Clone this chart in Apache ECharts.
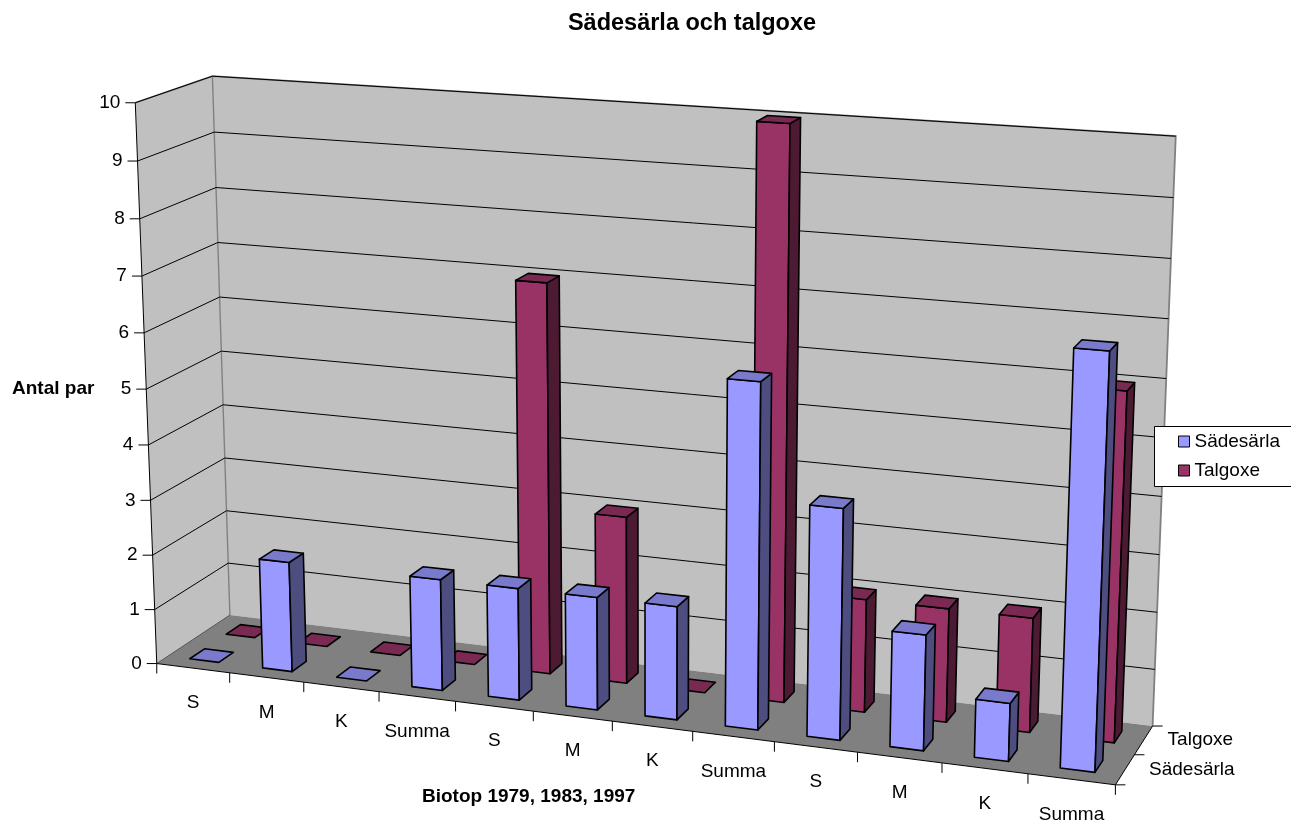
<!DOCTYPE html>
<html>
<head>
<meta charset="utf-8">
<script src="https://cdn.jsdelivr.net/npm/echarts@6/dist/echarts.min.js"></script>
<style>
  html, body { margin: 0; padding: 0; background: #ffffff; overflow: hidden; }
  #chart { width: 1291px; height: 821px; }
</style>
</head>
<body>
<div id="chart"></div>
<script>
// ---- chart data ----
const chartTitle = 'Sädesärla och talgoxe';
const categories = ['S', 'M', 'K', 'Summa', 'S', 'M', 'K', 'Summa', 'S', 'M', 'K', 'Summa'];
const seriesNames = ['Sädesärla', 'Talgoxe'];
const sadesarla = [0, 2, 0, 2, 2, 2, 2, 6, 4, 2, 1, 7];
const talgoxe = [0, 0, 0, 0, 7, 3, 0, 10, 2, 2, 2, 6];
const valueTicks = [0, 1, 2, 3, 4, 5, 6, 7, 8, 9, 10];
const valueMax = 10;
const xAxisTitle = 'Biotop 1979, 1983, 1997';
const yAxisTitle = 'Antal par';

// ---- 3-D frame: where the box corners and axis ticks sit on screen ----
// each entry: [category position, value, row position, screen x, screen y]
const frameAnchors = [
  [0, 0, 0, 157, 663], [0, 10, 0, 135, 102], [0, 1, 0, 155, 609],
  [0, 0, 2, 229, 615], [0, 10, 2, 212, 76], [0, 9, 2, 215, 133],
  [12, 0, 2, 1153, 725], [12, 10, 2, 1176, 136], [12, 9, 2, 1173, 198],
  [12, 0, 0, 1115, 784], [12, 0, 1, 1135, 755],
  [1, 0, 0, 230, 673], [2, 0, 0, 304, 682], [3, 0, 0, 379, 692], [4, 0, 0, 456, 701],
  [5, 0, 0, 533, 711], [6, 0, 0, 612, 722], [7, 0, 0, 693, 733], [8, 0, 0, 774, 742],
  [9, 0, 0, 857, 753], [10, 0, 0, 942, 763], [11, 0, 0, 1028, 773]
];

const FONT = "'Liberation Sans', Arial, Helvetica, sans-serif";
const BAR = 0.4;                 // share of a slot taken by a column (gap 150%)
const shadesBlue = { front: '#9999FF', top: '#7A7ACC', side: '#4D4D80' };
const shadesPlum = { front: '#993366', top: '#7A2952', side: '#4D1A33' };

const nCat = categories.length;
const nRow = seriesNames.length;

// Fit a perspective camera (3x4 projective matrix, DLT least squares)
function fitCamera(anchors, sx, sy, sz) {
  const rows = [], rhs = [];
  anchors.forEach(([X, Y, Z, u, v]) => {
    const x = X / sx, y = Y / sy, z = Z / sz, U = u / 1000, V = v / 1000;
    rows.push([x, y, z, 1, 0, 0, 0, 0, -U * x, -U * y, -U * z]); rhs.push(U);
    rows.push([0, 0, 0, 0, x, y, z, 1, -V * x, -V * y, -V * z]); rhs.push(V);
  });
  const n = 11;
  const N = Array.from({ length: n }, () => new Array(n + 1).fill(0));
  rows.forEach((r, k) => {
    for (let i = 0; i < n; i++) {
      for (let j = 0; j < n; j++) N[i][j] += r[i] * r[j];
      N[i][n] += r[i] * rhs[k];
    }
  });
  for (let c = 0; c < n; c++) {
    let p = c;
    for (let r = c + 1; r < n; r++) if (Math.abs(N[r][c]) > Math.abs(N[p][c])) p = r;
    [N[c], N[p]] = [N[p], N[c]];
    for (let r = 0; r < n; r++) {
      if (r === c) continue;
      const f = N[r][c] / N[c][c];
      for (let k = c; k <= n; k++) N[r][k] -= f * N[c][k];
    }
  }
  const m = N.map((row, i) => row[n] / row[i]);
  return function (X, Y, Z) {
    const x = X / sx, y = Y / sy, z = Z / sz;
    const w = m[8] * x + m[9] * y + m[10] * z + 1;
    return [
      (m[0] * x + m[1] * y + m[2] * z + m[3]) / w * 1000,
      (m[4] * x + m[5] * y + m[6] * z + m[7]) / w * 1000
    ];
  };
}
const project = fitCamera(frameAnchors, nCat, valueMax, nRow);

// grid pixel -> (category position, value) through the cartesian scales
function toWorld(pt, cs) {
  return [(pt[0] - cs.x) / cs.width * nCat, (cs.y + cs.height - pt[1]) / cs.height * valueMax];
}
function poly(points, fill, stroke, lw) {
  return { type: 'polygon', shape: { points: points },
    style: { fill: fill, stroke: stroke || null, lineWidth: lw || 0, lineJoin: 'round' } };
}
function line(points, stroke, lw) {
  return { type: 'polyline', shape: { points: points },
    style: { fill: null, stroke: stroke, lineWidth: lw } };
}
function label(text, x, y, align, size, weight) {
  return { type: 'text', x: x, y: y,
    style: { text: text, fill: '#000', align: align, verticalAlign: 'middle',
      font: (weight || 'normal') + ' ' + (size || 19) + 'px ' + FONT } };
}

// walls, floor and the axis lines
function renderFrame(params, api) {
  const cs = params.coordSys;
  const top = toWorld(api.coord([0, valueMax]), cs)[1];
  const X1 = nCat, Z1 = nRow;
  const P = project;
  return { type: 'group', children: [
    poly([P(0, 0, 0), P(0, 0, Z1), P(0, top, Z1), P(0, top, 0)], '#C0C0C0'),
    poly([P(0, 0, Z1), P(X1, 0, Z1), P(X1, top, Z1), P(0, top, Z1)], '#C0C0C0'),
    poly([P(0, 0, 0), P(X1, 0, 0), P(X1, 0, Z1), P(0, 0, Z1)], '#808080'),
    line([P(0, top, 0), P(0, top, Z1), P(X1, top, Z1), P(X1, 0, Z1)], '#808080', 1.8),
    line([P(0, 0, Z1), P(0, top, Z1)], '#808080', 1.4),
    line([P(0, 0, 0), P(0, 0, Z1)], '#555555', 1),
    line([P(0, 0, 0), P(0, top, 0)], '#000', 1),
    line([P(0, 0, 0), P(X1, 0, 0)], '#000', 1),
    line([P(X1, 0, 0), P(X1, 0, Z1)], '#000', 1)
  ] };
}

// value gridlines on side and back walls, ticks and labels of the value axis
function renderValueTick(params, api) {
  const cs = params.coordSys;
  const y = toWorld(api.coord([0, api.value(1)]), cs)[1];
  const P = project;
  const a = P(0, y, 0);
  const kids = [line([[a[0] - 10, a[1]], a], '#000', 1), label(String(api.value(1)), a[0] - 15, a[1], 'right')];
  if (y > 0) kids.unshift(line([a, P(0, y, nRow), P(nCat, y, nRow)], '#000', 1));
  return { type: 'group', children: kids };
}

// category ticks and labels along the front edge of the floor
function renderCategory(params, api) {
  const cs = params.coordSys;
  const xc = toWorld(api.coord([api.value(0), 0]), cs)[0];
  const P = project;
  const kids = [];
  const t0 = P(xc - 0.5, 0, 0);
  kids.push(line([t0, [t0[0], t0[1] + 10]], '#000', 1));
  if (params.dataIndex === nCat - 1) {
    const t1 = P(xc + 0.5, 0, 0);
    kids.push(line([t1, [t1[0], t1[1] + 10]], '#000', 1));
  }
  const c = P(xc, 0, 0);
  kids.push(label(categories[params.dataIndex], c[0], c[1] + 35, 'center'));
  return { type: 'group', children: kids };
}

// series ticks and names along the right edge of the floor
function renderRowAxis(params, api) {
  const i = params.dataIndex;
  const P = project;
  const kids = [];
  const r0 = P(nCat, 0, i);
  kids.push(line([r0, [r0[0] + 10, r0[1]]], '#000', 1));
  if (i === nRow - 1) {
    const r1 = P(nCat, 0, i + 1);
    kids.push(line([r1, [r1[0] + 10, r1[1]]], '#000', 1));
  }
  const c = P(nCat, 0, i + 0.5);
  kids.push(label(seriesNames[i], c[0] + 24, c[1], 'left'));
  return { type: 'group', children: kids };
}

// one 3-D column: front, right side and top faces
function columnRenderer(row, shades) {
  return function (params, api) {
    const cs = params.coordSys;
    const base = toWorld(api.coord([api.value(0), 0]), cs);
    const peak = toWorld(api.coord([api.value(0), api.value(1)]), cs);
    const half = api.size([1, 0])[0] / cs.width * nCat * BAR / 2;
    const x0 = base[0] - half, x1 = base[0] + half;
    const z0 = row + 0.5 - BAR / 2, z1 = row + 0.5 + BAR / 2;
    const y0 = base[1], v = peak[1];
    const P = project;
    const ink = '#000', lw = 1.6;
    const faces = [];
    if (v > y0) {
      faces.push(poly([P(x0, y0, z0), P(x1, y0, z0), P(x1, v, z0), P(x0, v, z0)], shades.front, ink, lw));
      faces.push(poly([P(x1, y0, z0), P(x1, y0, z1), P(x1, v, z1), P(x1, v, z0)], shades.side, ink, lw));
    }
    faces.push(poly([P(x0, v, z0), P(x1, v, z0), P(x1, v, z1), P(x0, v, z1)], shades.top, ink, lw));
    return { type: 'group', children: faces };
  };
}

const chart = echarts.init(document.getElementById('chart'), null, { renderer: 'canvas' });
chart.setOption({
  animation: false,
  backgroundColor: '#ffffff',
  title: {
    text: chartTitle, left: 692, top: 12, textAlign: 'center', padding: 0,
    textStyle: { fontFamily: FONT, fontSize: 23.5, fontWeight: 'bold', color: '#000' }
  },
  legend: {
    z: 20, orient: 'vertical', left: 1154, top: 426, padding: [5, 10, 5, 24],
    itemWidth: 11, itemHeight: 11, itemGap: 8, icon: 'rect', selectedMode: false,
    borderWidth: 0, backgroundColor: 'transparent',
    textStyle: { fontFamily: FONT, fontSize: 19, color: '#000', lineHeight: 21 },
    data: [
      { name: seriesNames[0], itemStyle: { color: shadesBlue.front, borderColor: '#000', borderWidth: 1 } },
      { name: seriesNames[1], itemStyle: { color: shadesPlum.front, borderColor: '#000', borderWidth: 1 } }
    ]
  },
  grid: { left: 100, right: 100, top: 80, bottom: 80 },
  xAxis: { type: 'category', data: categories, show: false },
  yAxis: { type: 'value', min: 0, max: valueMax, interval: 1, show: false },
  graphic: [
    // legend frame, running past the right edge of the canvas
    { type: 'rect', z: 10, shape: { x: 1154.5, y: 426.5, width: 160, height: 60 },
      style: { fill: '#fff', stroke: '#000', lineWidth: 1 } },
    { type: 'text', z: 10, x: 12, y: 389, style: { text: yAxisTitle, fill: '#000', verticalAlign: 'middle',
      font: 'bold 19px ' + FONT } },
    { type: 'text', z: 10, x: 422, y: 797, style: { text: xAxisTitle, fill: '#000', verticalAlign: 'middle',
      font: 'bold 19px ' + FONT } }
  ],
  series: [
    { type: 'custom', name: 'frame', z: 1, silent: true, renderItem: renderFrame, data: [[0, 0]] },
    { type: 'custom', name: 'valueAxis', z: 2, silent: true, renderItem: renderValueTick,
      data: valueTicks.map(t => [0, t]) },
    { type: 'custom', name: 'categoryAxis', z: 2, silent: true, renderItem: renderCategory,
      data: categories.map((c, i) => [i, 0]) },
    { type: 'custom', name: 'rowAxis', z: 2, silent: true, renderItem: renderRowAxis,
      data: seriesNames.map((n, i) => [0, i]) },
    { type: 'custom', name: seriesNames[1], z: 3, renderItem: columnRenderer(1, shadesPlum),
      itemStyle: { color: shadesPlum.front }, data: talgoxe.map((v, i) => [i, v]) },
    { type: 'custom', name: seriesNames[0], z: 4, renderItem: columnRenderer(0, shadesBlue),
      itemStyle: { color: shadesBlue.front }, data: sadesarla.map((v, i) => [i, v]) }
  ]
});
</script>
</body>
</html>
